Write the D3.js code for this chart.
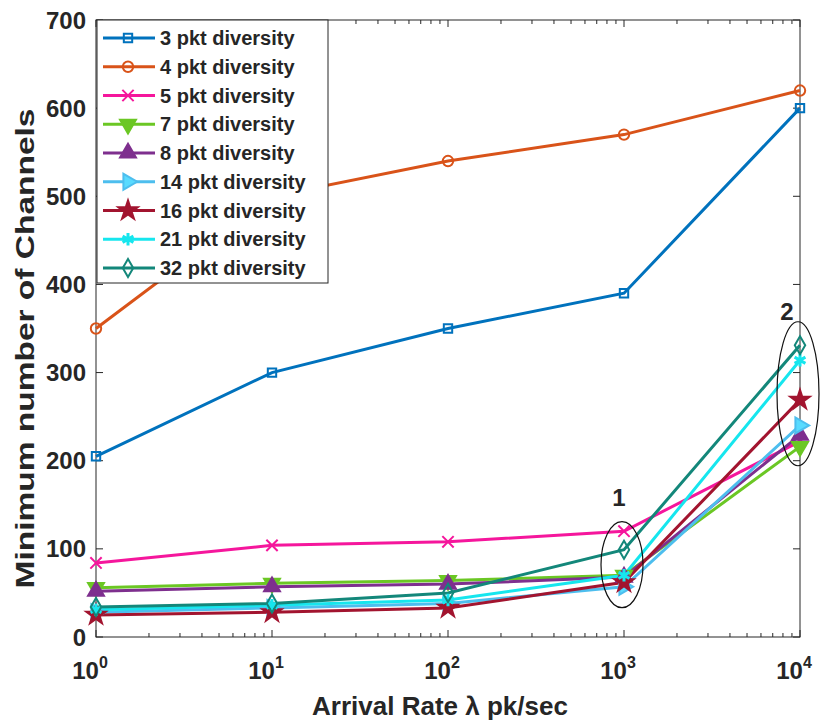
<!DOCTYPE html>
<html>
<head>
<meta charset="utf-8">
<script src="https://cdn.jsdelivr.net/npm/d3@7"></script>
<style>
  body { margin: 0; background: #fff; }
  text { font-family: "Liberation Sans", Arial, sans-serif; fill: #262626; }
</style>
</head>
<body>
<div id="chart"></div>
<script>
const rates = [1, 10, 100, 1000, 10000]

const pkt3 = [205, 300, 350, 390, 600]
const pkt4 = [350, 500, 540, 570, 620]
const pkt5 = [84, 104, 108, 120, 222]
const pkt7 = [56, 61, 64, 70, 216]
const pkt8 = [52, 57, 60, 68, 229]
const pkt14 = [28, 33, 38, 57, 240]
const pkt16 = [25, 28, 33, 62, 269]
const pkt21 = [31, 36, 42, 70, 314]
const pkt32 = [34, 38, 50, 99, 331]

const names = ['3 pkt diversity', '4 pkt diversity', '5 pkt diversity', '7 pkt diversity',
  '8 pkt diversity', '14 pkt diversity', '16 pkt diversity', '21 pkt diversity', '32 pkt diversity']
const colors = ['#0072BD', '#D95319', '#F5169C', '#6BC724', '#7E2F8E', '#4DBEEE', '#A2142F', '#16E6EE', '#13877A']
const yTicks = [0, 100, 200, 300, 400, 500, 600, 700]
const xTicks = [1, 10, 100, 1000, 10000]

// circled groups: centre in data units, label height in data units
const circles = [
  {x: 1000, y: 82, label: '1', ly: 158},
  {x: 10000, y: 276, label: '2', ly: 369}
]

const series = [pkt3, pkt4, pkt5, pkt7, pkt8, pkt14, pkt16, pkt21, pkt32]

const W = 821, H = 721
const margin = {top: 20, right: 21, bottom: 84, left: 96}
const width = W - margin.left - margin.right
const height = H - margin.top - margin.bottom

const x = d3.scaleLog().domain([1, 10000]).range([0, width])
const y = d3.scaleLinear().domain([0, 700]).range([height, 0])

const svg = d3.select('#chart').append('svg')
  .attr('width', W).attr('height', H)
const g = svg.append('g').attr('transform', `translate(${margin.left},${margin.top})`)

// markers
const markers = [
  {type: d3.symbolSquare, size: 70, fill: false},
  {type: d3.symbolCircle, size: 85, fill: false},
  {type: d3.symbolTimes, size: 85, fill: false},
  {type: d3.symbolTriangle, size: 110, fill: true, rot: 180},
  {type: d3.symbolTriangle, size: 110, fill: true},
  {type: d3.symbolTriangle, size: 110, fill: true, rot: 90, light: true},
  {type: d3.symbolStar, size: 115, fill: true},
  {type: d3.symbolAsterisk, size: 110, fill: false},
  {type: d3.symbolDiamond, size: 95, fill: false}
]

function drawMarker(sel, i, px, py) {
  const m = markers[i]
  sel.append('path')
    .attr('d', d3.symbol().type(m.type).size(m.size))
    .attr('transform', `translate(${px},${py}) rotate(${m.rot || 0})`)
    .attr('fill', m.fill ? (m.light ? d3.color(colors[i]).brighter(0.4) : colors[i]) : 'none')
    .attr('stroke', colors[i])
    .attr('stroke-width', m.type === d3.symbolAsterisk ? 3 : 2)
}

// axes box
g.append('rect').attr('width', width).attr('height', height)
  .attr('fill', 'none').attr('stroke', '#262626').attr('stroke-width', 1)

// y ticks
yTicks.forEach(t => {
  const py = y(t)
  g.append('line').attr('x1', 0).attr('x2', 7).attr('y1', py).attr('y2', py).attr('stroke', '#262626')
  g.append('line').attr('x1', width).attr('x2', width - 7).attr('y1', py).attr('y2', py).attr('stroke', '#262626')
  g.append('text').attr('x', -10).attr('y', py).attr('dy', '0.36em')
    .attr('text-anchor', 'end').attr('font-size', 24).attr('font-weight', 'bold')
    .text(t)
})

// x ticks (log, with minor ticks)
const minor = []
for (let d = 1; d < 10000; d *= 10) for (let k = 2; k <= 9; k++) minor.push(d * k)
minor.forEach(t => {
  const px = x(t)
  g.append('line').attr('x1', px).attr('x2', px).attr('y1', height).attr('y2', height - 4).attr('stroke', '#262626')
  g.append('line').attr('x1', px).attr('x2', px).attr('y1', 0).attr('y2', 4).attr('stroke', '#262626')
})
xTicks.forEach(t => {
  const px = x(t)
  g.append('line').attr('x1', px).attr('x2', px).attr('y1', height).attr('y2', height - 7).attr('stroke', '#262626')
  g.append('line').attr('x1', px).attr('x2', px).attr('y1', 0).attr('y2', 7).attr('stroke', '#262626')
  const lab = g.append('text').attr('x', px - 6).attr('y', height + 42)
    .attr('text-anchor', 'middle').attr('font-size', 24).attr('font-weight', 'bold')
  lab.append('tspan').text('10')
  lab.append('tspan').attr('dy', -11).attr('font-size', 16).text(Math.log10(t))
})

// axis labels
g.append('text').attr('x', width / 2 - 8).attr('y', height + 78)
  .attr('text-anchor', 'middle').attr('font-size', 26).attr('font-weight', 'bold')
  .text('Arrival Rate λ pk/sec')
g.append('text')
  .attr('transform', `translate(${-62},${height / 2 + 20}) rotate(-90)`)
  .attr('text-anchor', 'middle').attr('font-size', 26).attr('font-weight', 'bold')
  .attr('textLength', 480).attr('lengthAdjust', 'spacingAndGlyphs')
  .text('Minimum number of Channels')

// lines
const line = d3.line().x((d, i) => x(rates[i])).y(d => y(d))
series.forEach((s, i) => {
  g.append('path').datum(s).attr('d', line)
    .attr('fill', 'none').attr('stroke', colors[i]).attr('stroke-width', 3)
})
series.forEach((s, i) => {
  s.forEach((v, j) => drawMarker(g, i, x(rates[j]), y(v)))
})

// circled groups
circles.forEach(c => {
  g.append('ellipse').attr('cx', x(c.x) - 2).attr('cy', y(c.y))
    .attr('rx', 21).attr('ry', c.label === '1' ? 43 : 72)
    .attr('fill', 'none').attr('stroke', '#111').attr('stroke-width', 1.2)
  g.append('text').attr('x', x(c.x) - (c.label === '1' ? 5 : 13)).attr('y', y(c.ly)).attr('dy', '0.36em')
    .attr('text-anchor', 'middle').attr('font-size', 24).attr('font-weight', 'bold').attr('fill', '#111')
    .text(c.label)
})

// legend
const legend = g.append('g').attr('transform', 'translate(1,0)')
legend.append('rect').attr('width', 231).attr('height', 263)
  .attr('fill', '#fff').attr('stroke', '#262626').attr('stroke-width', 1)
names.forEach((n, i) => {
  const ly = 18 + i * 28.75
  legend.append('line').attr('x1', 6).attr('x2', 58).attr('y1', ly).attr('y2', ly)
    .attr('stroke', colors[i]).attr('stroke-width', 3)
  drawMarker(legend, i, 31, ly)
  legend.append('text').attr('x', 63).attr('y', ly).attr('dy', '0.36em')
    .attr('font-size', 20).attr('font-weight', 'bold').attr('fill', '#111')
    .text(n)
})
</script>
</body>
</html>
